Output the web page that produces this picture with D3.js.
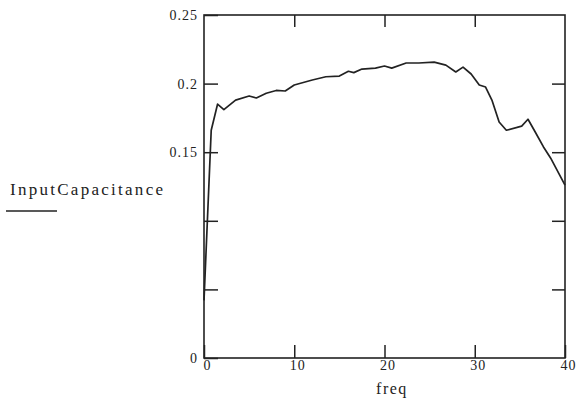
<!DOCTYPE html>
<html>
<head>
<meta charset="utf-8">
<script src="https://cdn.jsdelivr.net/npm/d3@7"></script>
<style>
  body { margin: 0; background: #fff; }
  svg { display: block; }
  text { font-family: "Liberation Serif", "Times New Roman", serif; fill: #222; }
</style>
</head>
<body>
<svg width="576" height="406"></svg>
<script>
// readings
const freq = [0, 0.8, 1.5, 2.2, 3.5, 5, 5.8, 6.9, 8, 9, 10, 12, 13.5, 15, 16, 16.6, 17.5, 19, 20,
  20.8, 22.4, 23.8, 25.5, 26.8, 27.9, 28.7, 29.6, 30.5, 31.2, 31.9, 32.7, 33.5, 35.2, 35.9,
  36.7, 37.6, 38.4, 40];
const inputCap = [0.042, 0.166, 0.185, 0.181, 0.188, 0.191, 0.1895, 0.193, 0.195, 0.1946, 0.199,
  0.2026, 0.205, 0.2055, 0.209, 0.208, 0.2106, 0.2113, 0.2128, 0.2113, 0.215, 0.215, 0.2157,
  0.2135, 0.2085, 0.212, 0.207, 0.199, 0.1975, 0.188, 0.172, 0.166, 0.169, 0.174, 0.1647,
  0.154, 0.1458, 0.126];

const yTicks = [0, 0.05, 0.1, 0.15, 0.2, 0.25];
const yLabelled = [0, 0.15, 0.2, 0.25];
const xTicks = [0, 10, 20, 30, 40];

const box = { left: 204, right: 565, top: 15, bottom: 358 };
const ink = "#222";

const svg = d3.select("svg");

const x = d3.scaleLinear().domain([0, 40]).range([box.left, box.right]);
const y = d3.scaleLinear().domain([0, 0.25]).range([box.bottom, box.top]);

// frame
svg.append("rect")
    .attr("x", box.left)
    .attr("y", box.top)
    .attr("width", box.right - box.left)
    .attr("height", box.bottom - box.top)
    .attr("fill", "none")
    .attr("stroke", ink)
    .attr("stroke-width", 1.6);

function styleAxis(g) {
    g.select(".domain").remove();
    g.selectAll(".tick line").attr("stroke", ink).attr("stroke-width", 1.5);
    g.selectAll(".tick text")
        .attr("fill", ink)
        .style("font-family", "'Liberation Serif', serif")
        .style("font-size", "14px")
        .style("letter-spacing", "1px");
}

svg.append("g")
    .attr("transform", `translate(${box.left},0)`)
    .call(d3.axisLeft(y)
        .tickValues(yTicks)
        .tickSizeInner(-14)
        .tickSizeOuter(0)
        .tickPadding(6)
        .tickFormat(d => yLabelled.includes(d) ? d3.format("")(+d.toFixed(2)) : ""))
    .call(styleAxis);

svg.append("g")
    .attr("transform", `translate(${box.right},0)`)
    .call(d3.axisRight(y)
        .tickValues(yTicks.slice(1, -1))
        .tickSizeInner(-13)
        .tickSizeOuter(0)
        .tickFormat(""))
    .call(styleAxis);

svg.append("g")
    .attr("transform", `translate(0,${box.bottom})`)
    .call(d3.axisBottom(x)
        .tickValues(xTicks)
        .tickSizeInner(-13)
        .tickSizeOuter(0)
        .tickPadding(2))
    .call(styleAxis)
    .selectAll(".tick text")
    .attr("x", 3);

svg.append("g")
    .attr("transform", `translate(0,${box.top})`)
    .call(d3.axisTop(x)
        .tickValues(xTicks.slice(1, -1))
        .tickSizeInner(-12)
        .tickSizeOuter(0)
        .tickFormat(""))
    .call(styleAxis);

// the curve
const line = d3.line()
    .x((d, i) => x(freq[i]))
    .y(d => y(d));

svg.append("path")
    .datum(inputCap)
    .attr("d", line)
    .attr("fill", "none")
    .attr("stroke", ink)
    .attr("stroke-width", 1.7)
    .attr("stroke-linejoin", "round");

// axis titles
svg.append("text")
    .attr("x", 10)
    .attr("y", 195)
    .attr("textLength", 153)
    .attr("lengthAdjust", "spacing")
    .style("font-size", "17px")
    .text("InputCapacitance");

svg.append("line")
    .attr("x1", 6).attr("x2", 57)
    .attr("y1", 211).attr("y2", 211)
    .attr("stroke", ink)
    .attr("stroke-width", 1.5);

svg.append("text")
    .attr("x", 392)
    .attr("y", 394)
    .attr("text-anchor", "middle")
    .style("font-size", "16px")
    .style("letter-spacing", "1.5px")
    .text("freq");
</script>
</body>
</html>
